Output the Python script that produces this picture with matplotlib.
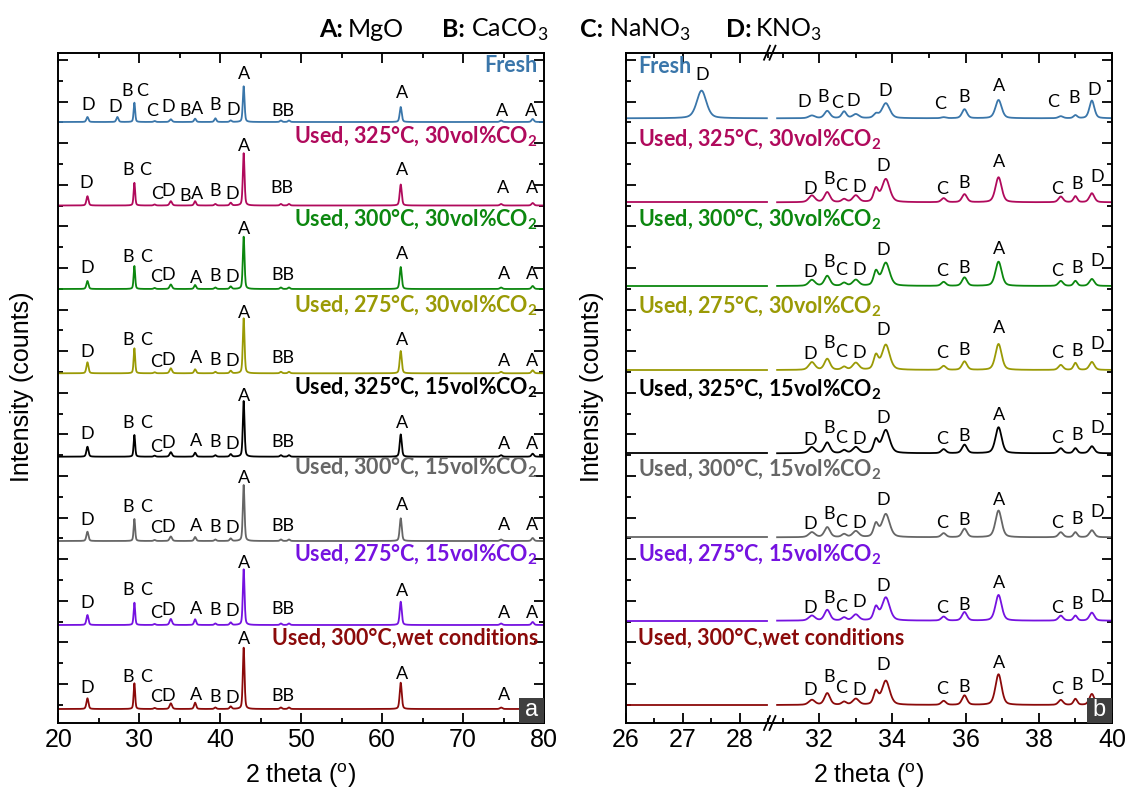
import numpy as np
import matplotlib
matplotlib.use("Agg")
import matplotlib.pyplot as plt
from matplotlib.ticker import MultipleLocator, NullFormatter
from matplotlib.patches import Rectangle
from matplotlib.lines import Line2D

plt.rcParams['font.family'] = ['Liberation Sans', 'DejaVu Sans']
plt.rcParams['mathtext.fontset'] = 'custom'
plt.rcParams['mathtext.rm'] = 'Lato'
plt.rcParams['mathtext.bf'] = 'Lato:bold'
plt.rcParams['mathtext.sf'] = 'Liberation Sans'

# ---------------- data ----------------
samples = ["Fresh",
           r"Used, 325°C, 30vol%CO$_\mathbf{2}$",
           r"Used, 300°C, 30vol%CO$_\mathbf{2}$",
           r"Used, 275°C, 30vol%CO$_\mathbf{2}$",
           r"Used, 325°C, 15vol%CO$_\mathbf{2}$",
           r"Used, 300°C, 15vol%CO$_\mathbf{2}$",
           r"Used, 275°C, 15vol%CO$_\mathbf{2}$",
           "Used, 300°C,wet conditions"]
colors = ["#3A76AA", "#B00A5C", "#0C870F", "#9A9A05",
          "#000000", "#666666", "#7512E0", "#8B0A0A"]

# stacking offsets (intensity, a.u.)
offsets_a = [601, 517.5, 434, 349.7, 266.3, 182, 98, 14]
offsets_b = [604.7, 520.7, 437, 353, 269.7, 185.7, 102.3, 18]

# panel a: full pattern 20-80 deg
peaks_a = [23.6, 27.3, 29.4, 31.9, 33.9, 36.9, 39.4, 41.3, 42.9, 47.5, 48.5, 62.3, 74.7, 78.6]
widths_a = [0.3, 0.3, 0.22, 0.3, 0.35, 0.3, 0.3, 0.3, 0.25, 0.3, 0.3, 0.3, 0.35, 0.35]
heights_a = [
    [5.0, 5.0, 19.3, 1.0, 2.7, 3.3, 3.7, 1.5, 35.7, 1.5, 1.5, 15.0, 1.5, 3.0],
    [9.3, 0.0, 22.7, 1.0, 4.3, 4.3, 1.5, 2.7, 52.3, 1.5, 1.5, 21.0, 1.5, 2.5],
    [8.0, 0.0, 23.0, 1.0, 4.5, 4.0, 1.5, 2.5, 52.3, 1.5, 1.5, 22.0, 1.5, 3.0],
    [11.0, 0.0, 25.0, 1.0, 5.0, 4.0, 1.5, 2.5, 55.0, 1.5, 1.5, 22.3, 1.5, 3.0],
    [10.0, 0.0, 21.7, 1.0, 4.5, 4.0, 1.5, 2.5, 55.7, 1.5, 1.5, 22.3, 1.5, 3.0],
    [9.3, 0.0, 22.0, 1.0, 4.5, 4.0, 1.5, 2.5, 56.0, 1.5, 1.5, 22.7, 1.5, 3.0],
    [10.0, 0.0, 22.3, 1.0, 6.0, 5.7, 1.5, 2.5, 55.7, 1.5, 1.5, 23.3, 1.5, 3.0],
    [10.7, 0.0, 25.7, 1.0, 5.7, 6.3, 1.5, 2.5, 61.3, 1.5, 1.5, 26.3, 1.5, 3.0],
]

# panel b: slow scan 26-28.5 and 31-40 deg
peaks_b1 = [27.33]
widths_b1 = [0.2]
heights_b1 = [[27.7], [0], [0], [0], [0], [0], [0], [0]]

peaks_b2 = [31.8, 32.22, 32.68, 33.0, 33.55, 33.82, 35.4, 35.97, 36.9, 38.6, 39.0, 39.45]
widths_b2 = [0.2, 0.18, 0.15, 0.2, 0.15, 0.25, 0.15, 0.16, 0.2, 0.15, 0.12, 0.16]
heights_b2 = [
    [2.7, 7.3, 6.7, 4.0, 4.0, 15.0, 1.0, 9.0, 18.3, 2.0, 3.0, 17.7],
    [6.7, 10.0, 3.0, 6.7, 13.0, 23.0, 4.0, 8.0, 25.0, 5.7, 6.0, 9.0],
    [6.0, 10.0, 3.0, 6.0, 14.0, 23.0, 4.0, 8.5, 24.3, 5.0, 5.0, 7.0],
    [7.7, 11.0, 3.0, 7.0, 14.0, 25.0, 4.0, 8.5, 26.0, 5.0, 7.0, 8.0],
    [6.0, 10.7, 3.0, 6.0, 13.0, 23.0, 4.0, 8.5, 26.0, 5.0, 5.0, 7.0],
    [5.0, 10.0, 3.0, 6.0, 13.0, 23.0, 4.0, 8.5, 26.7, 5.0, 5.0, 7.0],
    [5.0, 10.7, 3.0, 6.0, 13.0, 23.0, 4.0, 8.5, 25.7, 5.0, 5.0, 8.0],
    [5.0, 11.7, 3.0, 6.0, 13.0, 24.0, 4.0, 9.5, 30.7, 5.0, 6.0, 11.0],
]

# phase labels, panel a
lab_a_fresh = ["D", "D", "B", "C", "C", "D", "B", "A", "B", "D", "A", "BB", "A", "A", "A"]
lab_a_fresh_x = [23.7, 27.0, 28.5, 30.4, 31.6, 33.6, 35.7, 37.1, 39.4, 41.6, 42.95, 47.8, 62.4, 74.8, 78.4]
lab_a_fresh_dy = [16.7, 15, 31, 31, 11, 15, 11, 13.3, 16.7, 11.7, 48.3, 11, 29, 11, 11]

lab_a_m = ["D", "B", "C", "C", "D", "B", "A", "B", "D", "A", "BB", "A", "A", "A"]
lab_a_m_x = [23.5, 28.6, 30.7, 32.2, 33.6, 35.7, 37.1, 39.4, 41.5, 42.95, 47.6, 62.4, 74.9, 78.5]
lab_a_m_dy = [22.7, 36, 36, 11.7, 14.3, 10, 11.7, 14.3, 11.7, 60, 17.7, 36, 17.7, 17.7]

lab_a_used = ["D", "B", "C", "C", "D", "A", "B", "D", "A", "BB", "A", "A", "A"]
lab_a_used_x = [23.6, 28.65, 30.8, 32.1, 33.6, 37.0, 39.4, 41.5, 42.95, 47.7, 62.4, 75.0, 78.5]
lab_a_used_dy = [
    [20.7, 32.3, 32.3, 12.3, 14, 11, 13.3, 12.3, 60, 14, 35, 15, 15],
    [21.7, 33.3, 33.3, 11, 13.3, 15, 13.3, 12.3, 60.7, 15, 33.3, 12.3, 12.3],
    [22.3, 33.3, 33.3, 10, 13.3, 15.7, 14.3, 12.3, 61, 15, 33.3, 12.3, 12.3],
    [21, 34.3, 34.3, 12.7, 13.7, 15, 14, 13, 62.7, 15, 36, 16, 16],
    [22.3, 35, 35, 11.7, 15, 15.7, 15, 14, 61.7, 15.7, 34.3, 12.3, 12.3],
    [20.7, 32.3, 32.3, 12.3, 13, 14, 12.3, 10.7, 69.7, 13, 35, 14, None],
]

# phase labels, panel b
lab_b_fresh = ["D", "D", "B", "C", "D", "D", "C", "B", "A", "C", "B", "D"]
lab_b_fresh_x = [27.35, 31.6, 32.1, 32.5, 32.94, 33.8, 35.3, 35.97, 36.9, 38.4, 38.96, 39.5]
lab_b_fresh_dy = [43.3, 16.7, 21.7, 15, 17.7, 27.7, 14.3, 21.7, 32.3, 16.7, 20, 28]

lab_b_used = ["D", "B", "C", "D", "D", "C", "B", "A", "C", "B", "D"]
lab_b_used_x = [31.76, 32.27, 32.6, 33.1, 33.74, 35.36, 35.97, 36.91, 38.5, 39.04, 39.59]
lab_b_used_dy = [
    [13.3, 23.3, 16.7, 15, 36.7, 13.3, 19, 40, 13.3, 18.3, 25.7],
    [14.3, 24.3, 16, 16, 36, 15.3, 17.7, 37, 15, 18, 25],
    [15.7, 26.7, 18.3, 16.7, 40, 16.7, 20, 41.7, 16.7, 19, 26],
    [13.3, 25, 15, 14, 35.7, 14.3, 17.3, 38.3, 15, 18, 25],
    [13.3, 23.3, 15.7, 14.7, 37, 14, 17.3, 37, 14, 18, 25],
    [12.3, 22.3, 13.3, 19, 34.7, 12.3, 15.7, 37.3, 12.3, 17, 24],
    [15, 28.3, 16.7, 15, 40, 15.7, 18.3, 41.7, 15.7, 20, 28],
]

# sample-name label positions above each offset
name_dy_a = [57, 69, 69, 67, 69, 73, 70, 71]
name_dy_b = [52.3, 62.3, 66, 63.3, 63.3, 67.3, 65.7, 66.7]

# header: phase key
key_letters = ["A:", "B:", "C:", "D:"]
key_phases = ["MgO", r"CaCO$_3$", r"NaNO$_3$", r"KNO$_3$"]


def pattern(x, pos, h, w):
    y = np.zeros_like(x)
    for p, hh, ww in zip(pos, h, w):
        g = np.exp(-4 * np.log(2) * ((x - p) / ww) ** 2)
        l = 1.0 / (1.0 + 4 * ((x - p) / ww) ** 2)
        y += hh * (0.6 * g + 0.4 * l)
    return y


# ---------------- figure ----------------
W, H = 1126, 794
fig = plt.figure(figsize=(W / 100, H / 100), dpi=100)


def fx(px):
    return px / W


def fy(py):
    return 1 - py / H


top_px, bot_px = 52.7, 723
ax_a = fig.add_axes([fx(58.3), fy(bot_px), fx(544 - 58.3), (bot_px - top_px) / H])
ax_b1 = fig.add_axes([fx(626), fy(bot_px), fx(771 - 626), (bot_px - top_px) / H])
ax_b2 = fig.add_axes([fx(771), fy(bot_px), fx(1112 - 771), (bot_px - top_px) / H])

YLIM = (0, bot_px - top_px)
PEAK_FONT = dict(family=['Lato', 'DejaVu Sans'], fontsize=13, color='black')
NAME_FONT = dict(family=['Lato', 'DejaVu Sans'], fontsize=15.5, fontweight='bold')
LW = 1.3

for ax in (ax_a, ax_b1, ax_b2):
    ax.set_facecolor('none')
    ax.set_ylim(*YLIM)
    ax.yaxis.set_major_locator(MultipleLocator(41.6, offset=39))
    ax.yaxis.set_minor_locator(MultipleLocator(41.6, offset=18.2))
    ax.yaxis.set_major_formatter(NullFormatter())
    for s in ax.spines.values():
        s.set_linewidth(1.4)
    ax.tick_params(which='both', direction='in', width=1.3, labelsize=18,
                   top=True, bottom=True)
    ax.tick_params(which='major', length=7)
    ax.tick_params(which='minor', length=3.5)

ax_a.tick_params(which='both', left=True, right=True, labelleft=False)
ax_b1.tick_params(which='both', left=True, right=False, labelleft=False)
ax_b2.tick_params(which='both', left=False, right=True, labelleft=False)
ax_b1.spines['right'].set_visible(False)
ax_b2.spines['left'].set_visible(False)

# panel a
ax_a.set_xlim(20, 80)
ax_a.xaxis.set_major_locator(MultipleLocator(10))
ax_a.xaxis.set_minor_locator(MultipleLocator(5))
xa = np.arange(20, 80.0001, 0.02)
for i in range(8):
    y = offsets_a[i] + pattern(xa, peaks_a, heights_a[i], widths_a)
    ax_a.plot(xa, y, color=colors[i], lw=LW, solid_joinstyle='round')
    ax_a.text(79.25, offsets_a[i] + name_dy_a[i], samples[i], color=colors[i],
              ha='right', va='center', **NAME_FONT)

for l, x, d in zip(lab_a_fresh, lab_a_fresh_x, lab_a_fresh_dy):
    ax_a.text(x, offsets_a[0] + d, l, ha='center', va='center', **PEAK_FONT)
for l, x, d in zip(lab_a_m, lab_a_m_x, lab_a_m_dy):
    ax_a.text(x, offsets_a[1] + d, l, ha='center', va='center', **PEAK_FONT)
for k, dys in enumerate(lab_a_used_dy):
    for l, x, d in zip(lab_a_used, lab_a_used_x, dys):
        if d is not None:
            ax_a.text(x, offsets_a[k + 2] + d, l, ha='center', va='center', **PEAK_FONT)

# panel b
ax_b1.set_xlim(26, 26 + 145 / 56.8)
ax_b1.xaxis.set_major_locator(MultipleLocator(1))
ax_b1.xaxis.set_minor_locator(MultipleLocator(0.5))
ax_b2.set_xlim(40 - 341 / 36.6, 40)
ax_b2.xaxis.set_major_locator(MultipleLocator(2))
ax_b2.xaxis.set_minor_locator(MultipleLocator(1))

xb1 = np.arange(26, 28.48, 0.005)
xb2 = np.arange(30.85, 40.0001, 0.005)
for i in range(8):
    y1 = offsets_b[i] + pattern(xb1, peaks_b1, heights_b1[i], widths_b1)
    y2 = offsets_b[i] + pattern(xb2, peaks_b2, heights_b2[i], widths_b2)
    ax_b1.plot(xb1, y1, color=colors[i], lw=LW)
    ax_b2.plot(xb2, y2, color=colors[i], lw=LW)
    ax_b1.text(26.22, offsets_b[i] + name_dy_b[i], samples[i], color=colors[i],
               ha='left', va='center', **NAME_FONT)

for l, x, d in zip(lab_b_fresh, lab_b_fresh_x, lab_b_fresh_dy):
    target = ax_b1 if x < 29 else ax_b2
    target.text(x, offsets_b[0] + d, l, ha='center', va='center', **PEAK_FONT)
for k, dys in enumerate(lab_b_used_dy):
    for l, x, d in zip(lab_b_used, lab_b_used_x, dys):
        ax_b2.text(x, offsets_b[k + 1] + d, l, ha='center', va='center', **PEAK_FONT)

# break marks
for ybase in (top_px, bot_px):
    for dx in (0, 5.5):
        x0 = 764 + dx
        fig.add_artist(Line2D([fx(x0), fx(x0 + 6)], [fy(ybase + 7), fy(ybase - 7)],
                              color='black', lw=1.3))

# corner panel tags
for ax, tag, wpx in ((ax_a, 'a', 544 - 58.3), (ax_b2, 'b', 1112 - 771)):
    bw = 25 / wpx
    bh = 25 / (bot_px - top_px)
    ax.add_patch(Rectangle((1 - bw, 0), bw, bh, transform=ax.transAxes,
                           facecolor='#3F3F3F', edgecolor='none', zorder=5))
    ax.text(1 - bw / 2, bh / 2, tag, transform=ax.transAxes, color='white',
            ha='center', va='center', fontsize=17, zorder=6)

# axis titles
fig.text(fx(301), fy(776), r'2 theta ($^{\mathsf{o}}$)', ha='center', va='center', fontsize=18)
fig.text(fx(869), fy(776), r'2 theta ($^{\mathsf{o}}$)', ha='center', va='center', fontsize=18)
fig.text(fx(22), fy(387), 'Intensity (counts)', rotation=90, ha='center', va='center', fontsize=18)
fig.text(fx(592), fy(387), 'Intensity (counts)', rotation=90, ha='center', va='center', fontsize=18)

# phase legend header
hdr = dict(family=['Lato', 'DejaVu Sans'], fontsize=18, va='baseline')
for bold, name, xb in zip(key_letters, key_phases, (319, 442, 580, 726)):
    fig.text(fx(xb), fy(37), bold, fontweight='bold', ha='left', **hdr)
    fig.text(fx(xb + 29), fy(37), name, ha='left', **hdr)

fig.savefig('out.png', dpi=100)
